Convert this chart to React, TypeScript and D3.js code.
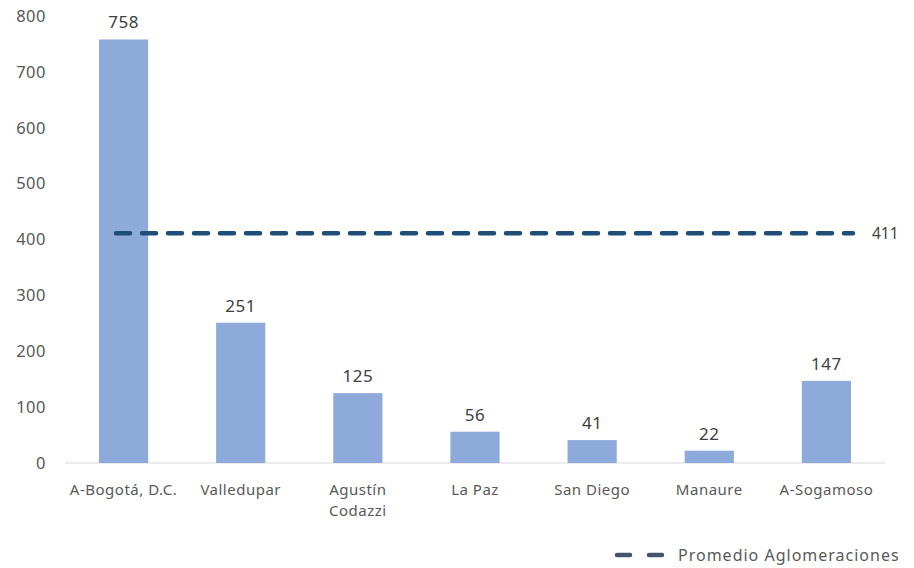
import React from 'react';
import * as d3 from 'd3';

const categories = ['A-Bogotá, D.C.', 'Valledupar', 'Agustín Codazzi', 'La Paz', 'San Diego', 'Manaure', 'A-Sogamoso'];
const values = [758, 251, 125, 56, 41, 22, 147];
const averageValue = 411;
const yTicks = [0, 100, 200, 300, 400, 500, 600, 700, 800];
const legendLabel = 'Promedio Aglomeraciones';

const W = 914, H = 568;
const font = '"Noto Sans", "Open Sans", sans-serif';

export default function App() {
    const x = d3.scaleBand<string>()
        .domain(categories)
        .range([65, 885])
        .paddingInner(0.58)
        .paddingOuter(0.29);

    const y = d3.scaleLinear()
        .domain([0, 800])
        .range([463, 16]);

    // average line spans the categories a bit past the bars
    const avgX = d3.scalePoint<string>()
        .domain(categories)
        .range([116, 853]);

    const avgLine = d3.line<string>()
        .x(d => avgX(d) as number)
        .y(() => y(averageValue));

    const cx = (c: string) => (x(c) as number) + x.bandwidth() / 2;

    return (
        <svg width={W} height={H} style={{ position: 'absolute', left: 0, top: 0 }}>
            <rect width={W} height={H} fill="#fff" />
            {yTicks.map(t => (
                <text key={t} x={46} y={y(t)} dy="0.35em" textAnchor="end"
                    fontFamily={font} fontSize={16.5} fill="#595959" letterSpacing={0.5}>{t}</text>
            ))}
            <line x1={65} x2={885} y1={y(0)} y2={y(0)} stroke="#d9d9d9" strokeWidth={1} />
            {categories.map((c, i) => (
                <g key={c}>
                    <rect x={x(c)} y={y(values[i])} width={x.bandwidth()}
                        height={y(0) - y(values[i])} fill="#8eaadb" />
                    <text x={cx(c)} y={y(values[i]) - 11}
                        textAnchor="middle" fontFamily={font} fontSize={17} fill="#404040" letterSpacing={0.5}>{values[i]}</text>
                    {c.startsWith('Agust') ? (
                        <text x={cx(c)} y={495} textAnchor="middle"
                            fontFamily={font} fontSize={15} fill="#595959" letterSpacing={0.5}>
                            <tspan x={cx(c)}>{c.split(' ')[0]}</tspan>
                            <tspan x={cx(c)} dy={21}>{c.split(' ')[1]}</tspan>
                        </text>
                    ) : (
                        <text x={cx(c)} y={495} textAnchor="middle"
                            fontFamily={font} fontSize={15} fill="#595959" letterSpacing={0.5}>{c}</text>
                    )}
                </g>
            ))}
            <path d={avgLine(categories) as string} fill="none" stroke="#1f4e79"
                strokeWidth={4.5} strokeDasharray="14 12" strokeLinecap="round" />
            <text x={872} y={y(averageValue)} dy="0.35em" fontFamily={font} fontSize={15.5} fill="#404040">{averageValue}</text>
            <line x1={617} x2={666} y1={555} y2={555} stroke="#44546a"
                strokeWidth={4.5} strokeDasharray="13 19" strokeLinecap="round" />
            <text x={678} y={555} dy="0.35em" fontFamily={font} fontSize={16} fill="#595959"
                letterSpacing={1}>{legendLabel}</text>
        </svg>
    );
}
